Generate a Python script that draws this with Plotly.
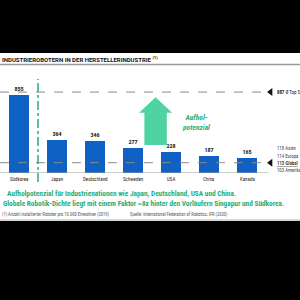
import plotly.graph_objects as go

countries = ["Südkorea", "Japan", "Deutschland", "Schweden", "USA", "China", "Kanada"]
density = [855, 364, 346, 277, 228, 187, 165]
ref_values = [887, 113]
region_labels = ["118 Asien", "114 Europa", "<b><u>113 Global</u></b>", "103 Amerika"]

W, H = 300, 300
BLUE = "#0f62c4"
GREEN = "#1fae78"
MINT = "#4fd3a2"
FONT = "Roboto Condensed, Roboto, sans-serif"

def py(px):  # pixel y (from top) -> paper y
    return 1 - px / H

def pxx(px):  # pixel x -> paper x
    return px / W

x_idx = list(range(len(countries)))
fig = go.Figure()
fig.add_trace(go.Bar(
    x=x_idx, y=density, width=0.55, marker=dict(color=BLUE, line=dict(width=0)),
    text=[f"<b>{v}</b>" for v in density], textposition="outside", cliponaxis=False,
    textfont=dict(size=6, color="#222", family=FONT),
    hoverinfo="skip"))

# reference triangles
fig.add_trace(go.Scatter(
    x=[6.62] * len(ref_values), y=ref_values, mode="markers",
    marker=dict(symbol="triangle-left", size=7, color="#111"), cliponaxis=False,
    hoverinfo="skip"))

shapes = []
shapes.append(dict(type="rect", xref="paper", yref="paper", x0=0, x1=1, y0=py(221), y1=py(53),
                   fillcolor="white", line=dict(width=0), layer="below"))
shapes.append(dict(type="line", xref="paper", yref="paper", x0=0, x1=1, y0=py(64.5), y1=py(64.5),
                   line=dict(color="#9a9a9a", width=1.5)))
shapes.append(dict(type="line", xref="paper", yref="paper", x0=0, x1=1, y0=py(220), y1=py(220),
                   line=dict(color="#b0b0b0", width=1)))
for v in ref_values:
    shapes.append(dict(type="line", xref="x", yref="y", x0=-0.5, x1=6.47, y0=v, y1=v,
                       line=dict(color="#8a8a8a", width=1, dash="dash")))
shapes.append(dict(type="line", xref="x", yref="y", x0=-0.5, x1=6.55, y0=0, y1=0,
                   line=dict(color="#9a9a9a", width=1)))
shapes.append(dict(type="line", xref="x", yref="paper", x0=0.5, x1=0.5, y0=py(182), y1=py(79),
                   line=dict(color=GREEN, width=1.5, dash="dashdot")))
ax0, ax1 = 3.16, 4.03
sx0, sx1 = 3.30, 3.89
xc = (ax0 + ax1) / 2
tip, hb, bot = 830, 660, 307
path = (f"M {sx0},{bot} L {sx1},{bot} L {sx1},{hb} L {ax1},{hb} L {xc},{tip} "
        f"L {ax0},{hb} L {sx0},{hb} Z")
shapes.append(dict(type="path", xref="x", yref="y", path=path, fillcolor=MINT, line=dict(width=0)))

ann = []
ann.append(dict(xref="paper", yref="paper", x=0, y=py(59), xanchor="left", yanchor="middle",
                text="<b>INDUSTRIEROBOTERN IN DER HERSTELLERINDUSTRIE <sup>(1)</sup></b>",
                showarrow=False, font=dict(size=6, color="#111", family="Roboto, sans-serif")))
for i, c in enumerate(countries):
    ann.append(dict(xref="x", yref="paper", x=i, y=py(178.5), text=c, showarrow=False,
                    xanchor="center", yanchor="middle", font=dict(size=5, color="#222", family=FONT)))
ann.append(dict(xref="paper", yref="paper", x=pxx(196), y=py(123), text="<b><i>Aufhol-<br>potenzial</i></b>",
                showarrow=False, xanchor="center", yanchor="middle", align="center",
                font=dict(size=7.5, color=GREEN, family=FONT)))
ann.append(dict(xref="paper", yref="y", x=pxx(275), y=887, text="<b>887</b> Ø Top 5",
                showarrow=False, xanchor="left", yanchor="middle",
                font=dict(size=4.8, color="#222", family=FONT)))
for k, t in enumerate(region_labels):
    ann.append(dict(xref="paper", yref="paper", x=pxx(275), y=py(149 + 7 * k), text=t,
                    showarrow=False, xanchor="left", yanchor="middle",
                    font=dict(size=4.8, color="#444", family=FONT)))
ann.append(dict(xref="paper", yref="paper", x=pxx(5), y=py(193),
                text="<b>Aufholpotenzial für Industrienationen wie Japan, Deutschland, USA und China.</b>",
                showarrow=False, xanchor="left", yanchor="middle",
                font=dict(size=7.3, color=GREEN, family=FONT)))
ann.append(dict(xref="paper", yref="paper", x=pxx(1), y=py(203),
                text="<b>Globale Robotik-Dichte liegt mit einem Faktor ~8x hinter den Vorläufern Singapur und Südkorea.</b>",
                showarrow=False, xanchor="left", yanchor="middle",
                font=dict(size=7.3, color=GREEN, family=FONT)))
ann.append(dict(xref="paper", yref="paper", x=0, y=py(214),
                text="(1) Anzahl installierter Roboter pro 10.000 Einwohner (2019)",
                showarrow=False, xanchor="left", yanchor="middle",
                font=dict(size=4.5, color="#555", family=FONT)))
ann.append(dict(xref="paper", yref="paper", x=pxx(128), y=py(214),
                text="Quelle: International Federation of Robotics, IFR (2020)",
                showarrow=False, xanchor="left", yanchor="middle",
                font=dict(size=4.5, color="#555", family=FONT)))

px_per_unit = 78 / 855
fig.update_layout(
    width=W, height=H, margin=dict(l=0, r=0, t=0, b=0),
    paper_bgcolor="black", plot_bgcolor="rgba(0,0,0,0)",
    showlegend=False, shapes=shapes, annotations=ann,
    xaxis=dict(range=[-0.5, (W - 19) / 38], domain=[0, 1], visible=False, fixedrange=True),
    yaxis=dict(range=[0, (173 - 53) / px_per_unit], domain=[py(173), py(53)], visible=False, fixedrange=True),
    bargap=0,
)
fig.write_html("out.html")
